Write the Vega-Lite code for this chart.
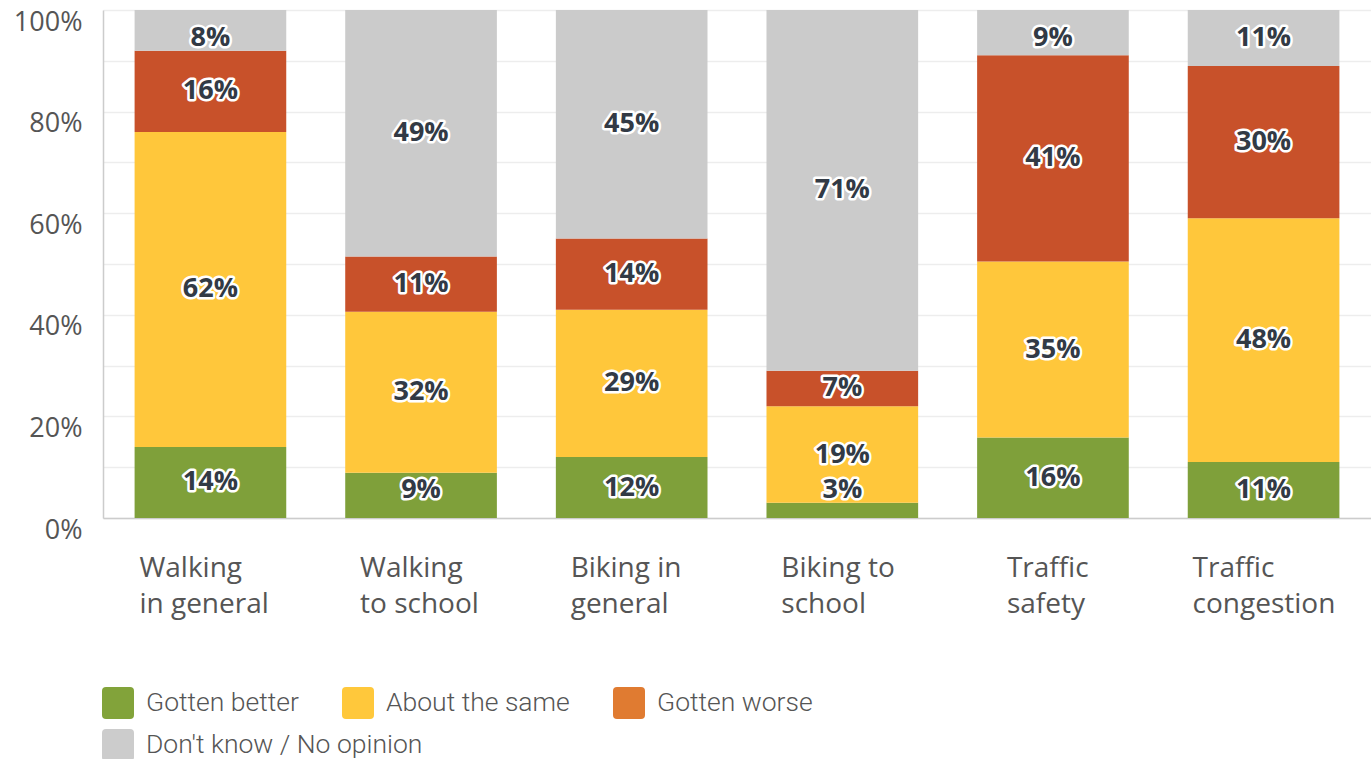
{
  "$schema": "https://vega.github.io/schema/vega-lite/v6.json",
  "width": 1268,
  "height": 508,
  "autosize": {"type": "none"},
  "padding": {"left": 103, "top": 10, "right": 0, "bottom": 241},
  "background": "white",
  "config": {
    "view": {"stroke": null},
    "legend": {
      "title": null,
      "orient": "none",
      "direction": "horizontal",
      "symbolType": "M-0.75,-1H0.75Q1,-1 1,-0.75V0.75Q1,1 0.75,1H-0.75Q-1,1 -1,0.75V-0.75Q-1,-1 -0.75,-1Z",
      "symbolSize": 1024,
      "symbolStrokeWidth": 0,
      "labelFont": "Roboto",
      "labelFontWeight": 300,
      "labelFontSize": 26.5,
      "labelColor": "#555555",
      "labelOffset": 12,
      "labelLimit": 400,
      "columnPadding": 43
    }
  },
  "data": {
    "values": [
      {"item": "Walking in general", "response": "Gotten better", "pct": 14},
      {"item": "Walking in general", "response": "About the same", "pct": 62},
      {"item": "Walking in general", "response": "Gotten worse", "pct": 16},
      {"item": "Walking in general", "response": "Don't know / No opinion", "pct": 8},
      {"item": "Walking to school", "response": "Gotten better", "pct": 9},
      {"item": "Walking to school", "response": "About the same", "pct": 32},
      {"item": "Walking to school", "response": "Gotten worse", "pct": 11},
      {"item": "Walking to school", "response": "Don't know / No opinion", "pct": 49},
      {"item": "Biking in general", "response": "Gotten better", "pct": 12},
      {"item": "Biking in general", "response": "About the same", "pct": 29},
      {"item": "Biking in general", "response": "Gotten worse", "pct": 14},
      {"item": "Biking in general", "response": "Don't know / No opinion", "pct": 45},
      {"item": "Biking to school", "response": "Gotten better", "pct": 3},
      {"item": "Biking to school", "response": "About the same", "pct": 19},
      {"item": "Biking to school", "response": "Gotten worse", "pct": 7},
      {"item": "Biking to school", "response": "Don't know / No opinion", "pct": 71},
      {"item": "Traffic safety", "response": "Gotten better", "pct": 16},
      {"item": "Traffic safety", "response": "About the same", "pct": 35},
      {"item": "Traffic safety", "response": "Gotten worse", "pct": 41},
      {"item": "Traffic safety", "response": "Don't know / No opinion", "pct": 9},
      {"item": "Traffic congestion", "response": "Gotten better", "pct": 11},
      {"item": "Traffic congestion", "response": "About the same", "pct": 48},
      {"item": "Traffic congestion", "response": "Gotten worse", "pct": 30},
      {"item": "Traffic congestion", "response": "Don't know / No opinion", "pct": 11}
    ]
  },
  "transform": [
    {"calculate": "indexof(['Gotten better','About the same','Gotten worse',\"Don't know / No opinion\"], datum.response)", "as": "rank"},
    {"stack": "pct", "groupby": ["item"], "sort": [{"field": "rank", "order": "ascending"}], "offset": "normalize", "as": ["y0", "y1"]},
    {"calculate": "max(0.055, min(0.945, (datum.y0 + datum.y1) / 2))", "as": "ymid"},
    {"calculate": "datum.pct + '%'", "as": "label"}
  ],
  "encoding": {
    "x": {
      "field": "item",
      "type": "nominal",
      "sort": ["Walking in general", "Walking to school", "Biking in general", "Biking to school", "Traffic safety", "Traffic congestion"],
      "scale": {"paddingInner": 0.28, "paddingOuter": 0.15},
      "axis": {
        "title": null,
        "ticks": false,
        "domain": true,
        "domainColor": "#cccccc",
        "domainWidth": 1.5,
        "labelAngle": 0,
        "labelAlign": "left",
        "labelBaseline": "top",
        "labelOffset": {
          "condition": [
            {"test": "datum.value == 'Traffic safety'", "value": -46},
            {"test": "datum.value == 'Walking in general' || datum.value == 'Traffic congestion'", "value": -71}
          ],
          "value": -61
        },
        "labelPadding": 36,
        "labelFont": "Open Sans",
        "labelFontSize": 28,
        "labelLineHeight": 36,
        "labelColor": "#555555",
        "labelLimit": 300,
        "labelExpr": "datum.value == 'Walking in general' ? ['Walking', 'in general'] : datum.value == 'Walking to school' ? ['Walking', 'to school'] : datum.value == 'Biking in general' ? ['Biking in', 'general'] : datum.value == 'Biking to school' ? ['Biking to', 'school'] : datum.value == 'Traffic safety' ? ['Traffic', 'safety'] : ['Traffic', 'congestion']"
      }
    }
  },
  "layer": [
    {
      "mark": {"type": "bar"},
      "encoding": {
        "y": {
          "field": "y0",
          "type": "quantitative",
          "scale": {"domain": [0, 1], "nice": false},
          "axis": {
            "title": null,
            "values": [0, 0.1, 0.2, 0.3, 0.4, 0.5, 0.6, 0.7, 0.8, 0.9, 1],
            "labelExpr": "round(datum.value * 10) % 2 == 0 ? format(datum.value, '.0%') : ''",
            "grid": true,
            "gridColor": "#ededed",
            "gridWidth": 1.5,
            "ticks": false,
            "domain": true,
            "domainColor": "#cccccc",
            "domainWidth": 1.5,
            "labelFont": "Open Sans",
            "labelFontSize": 27,
            "labelColor": "#555555",
            "labelPadding": 21,
            "labelOffset": 12
          }
        },
        "y2": {"field": "y1"},
        "color": {
          "field": "response",
          "type": "nominal",
          "scale": {
            "domain": ["Gotten better", "About the same", "Gotten worse", "Don't know / No opinion"],
            "range": ["#7FA03A", "#FFC73B", "#C8512A", "#CBCBCB"]
          },
          "legend": null
        }
      }
    },
    {
      "transform": [{"filter": "datum.rank < 3"}],
      "mark": {"type": "bar"},
      "encoding": {
        "y": {"datum": 0},
        "y2": {"datum": 0},
        "color": {
          "field": "response",
          "type": "nominal",
          "scale": {
            "domain": ["Gotten better", "About the same", "Gotten worse"],
            "range": ["#82A33A", "#FFC83B", "#E07B31"]
          },
          "legend": {"legendX": -1, "legendY": 677}
        }
      }
    },
    {
      "transform": [{"filter": "datum.rank == 3"}],
      "mark": {"type": "bar"},
      "encoding": {
        "y": {"datum": 0},
        "y2": {"datum": 0},
        "color": {
          "field": "response",
          "type": "nominal",
          "scale": {
            "domain": ["Don't know / No opinion"],
            "range": ["#CCCCCC"]
          },
          "legend": {"legendX": -1, "legendY": 719}
        }
      }
    },
    {
      "mark": {"type": "text", "font": "Open Sans", "fontWeight": "bold", "fontSize": 27, "fill": "white", "stroke": "white", "strokeWidth": 5, "strokeJoin": "round", "baseline": "middle", "align": "center"},
      "encoding": {
        "y": {"field": "ymid", "type": "quantitative"},
        "text": {"field": "label"}
      }
    },
    {
      "mark": {"type": "text", "font": "Open Sans", "fontWeight": "bold", "fontSize": 27, "fill": "#323a45", "baseline": "middle", "align": "center"},
      "encoding": {
        "y": {"field": "ymid", "type": "quantitative"},
        "text": {"field": "label"}
      }
    }
  ],
  "resolve": {"scale": {"color": "independent"}, "legend": {"color": "independent"}}
}
